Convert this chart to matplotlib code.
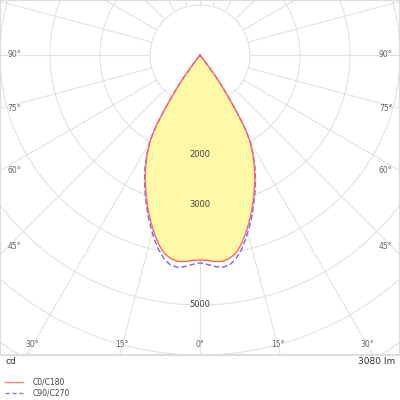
import numpy as np
import matplotlib
matplotlib.use("Agg")
import matplotlib.pyplot as plt

angles = [0, 2, 4, 6, 8, 10, 12, 14, 16, 18, 20, 22, 24, 26, 28, 30, 31, 32, 33, 34, 35, 36, 37, 38, 90]
c0_c180 = [4100, 4110, 4140, 4150, 4120, 4040, 3900, 3720, 3520, 3320, 3110, 2900, 2700, 2480, 2250, 2000, 1820, 1600, 1300, 1020, 800, 560, 280, 0, 0]
c90_c270 = [4160, 4190, 4240, 4270, 4240, 4140, 3980, 3790, 3580, 3370, 3150, 2940, 2730, 2510, 2270, 2020, 1830, 1610, 1310, 1020, 800, 560, 280, 0, 0]
ring_values = [1000, 2000, 3000, 4000, 5000, 6000, 7000, 8000, 9000]
ring_labels = [2000, 3000, 5000]
flux_label = "3080 lm"
unit_label = "cd"
legend_names = ["C0/C180", "C90/C270"]

fig = plt.figure(figsize=(4, 4), dpi=100)
ax = fig.add_axes([0, 45/400, 1, 355/400])
ax.set_xlim(-4000, 4000)
ax.set_ylim(-6000, 1100)
ax.set_xticks([]); ax.set_yticks([])
for s in ax.spines.values():
    s.set_color("#dddddd"); s.set_linewidth(1.5)

grid = "#e3e3e3"
t = np.linspace(0, 2*np.pi, 400)
for r in ring_values:
    ax.plot(r*np.cos(t), r*np.sin(t), color=grid, lw=0.8, zorder=1)
for a in range(0, 360, 15):
    ar = np.radians(a)
    ax.plot([1000*np.sin(ar), 12000*np.sin(ar)], [-1000*np.cos(ar), -12000*np.cos(ar)], color=grid, lw=0.8, zorder=1)

def curve(ang, val):
    a = np.radians(np.array(ang, float))
    v = np.array(val, float)
    a_full = np.concatenate([-a[::-1], a[1:]])
    v_full = np.concatenate([v[::-1], v[1:]])
    return v_full*np.sin(a_full), -v_full*np.cos(a_full)

x0, y0 = curve(angles, c0_c180)
x1, y1 = curve(angles, c90_c270)
ax.fill(x0, y0, color="#fdf9a6", zorder=2, lw=0)
ax.plot(x1, y1, color="#6a6aff", lw=1.0, ls=(0, (4, 2)), zorder=3)
ax.plot(x0, y0, color="#ff6666", lw=1.0, zorder=4)

for r in ring_labels:
    ax.text(0, -r, str(r), ha="center", va="center", fontsize=6, color="#444444", zorder=5)

lab = dict(fontsize=5.5, color="#666666", va="center")
for a in [90, 75, 60, 45]:
    y = -4000/np.tan(np.radians(a)) if a != 90 else 0
    y += 170 if a == 45 else 0
    ax.text(-3850, y, f"{a}°", ha="left", **lab)
    ax.text(3850, y, f"{a}°", ha="right", **lab)
for a in [0, 15, 30]:
    x = 5800*np.tan(np.radians(a))
    ax.text(-x, -5800, f"{a}°", ha="center", **lab)
    if a:
        ax.text(x, -5800, f"{a}°", ha="center", **lab)

fig.text(5/400, 1-362/400, unit_label, fontsize=6.5, color="#333333", va="center")
fig.text(395/400, 1-362/400, flux_label, fontsize=6.5, color="#333333", va="center", ha="right")
fig.add_artist(plt.Line2D([5/400, 23/400], [1-382/400]*2, color="#ff8080", lw=1))
fig.add_artist(plt.Line2D([5/400, 23/400], [1-393/400]*2, color="#8080ff", lw=1, ls=(0, (3, 2))))
fig.text(33/400, 1-382/400, legend_names[0], fontsize=5.5, color="#444444", va="center")
fig.text(33/400, 1-393/400, legend_names[1], fontsize=5.5, color="#444444", va="center")

fig.savefig("out.png", dpi=100)
